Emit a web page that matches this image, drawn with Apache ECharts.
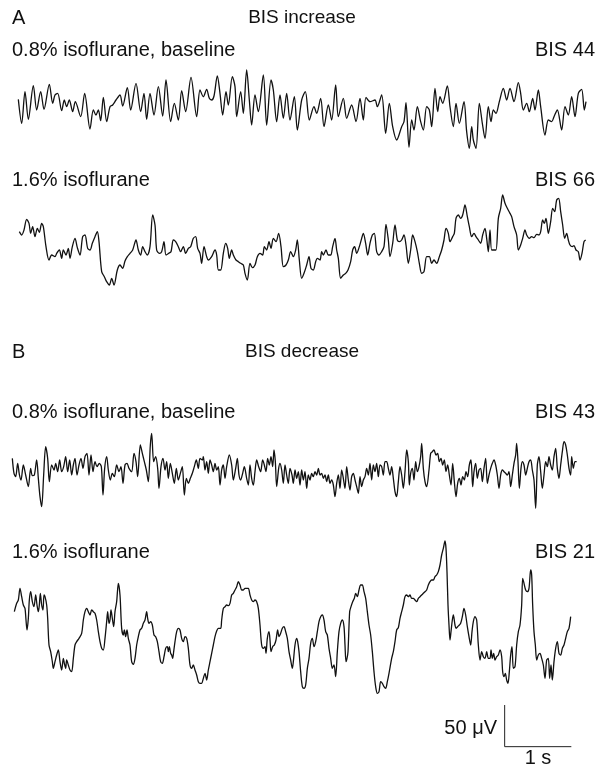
<!DOCTYPE html>
<html>
<head>
<meta charset="utf-8">
<script src="https://cdn.jsdelivr.net/npm/echarts@6/dist/echarts.min.js"></script>
<style>
html,body{margin:0;padding:0;background:#fff;}
#main{width:603px;height:767px;}
</style>
</head>
<body>
<div id="main"></div>
<script>
// ---- DATA: EEG traces as [time (ms), amplitude (µV)] ----
const traceA_baseline = [[275,12.8],[325,-16],[375,22],[425,-11.2],[500,29.2],[550,0],[610,22],[660,0.8],[740,30.8],[790,8],[825,18],[865,20],[925,-0.8],[965,12],[1000,4],[1040,12],[1090,-2],[1130,10],[1210,-8],[1270,20],[1350,-22.8],[1400,0],[1440,-6],[1475,0],[1510,-12.8],[1550,15.2],[1600,-14],[1650,4],[1690,6],[1740,12],[1800,18],[1840,4.8],[1910,26.8],[1960,0],[2040,32],[2110,-2],[2160,20],[2200,-11.2],[2250,20],[2310,-6],[2375,28],[2440,-7.2],[2490,36],[2560,-14],[2615,8],[2675,-12],[2725,23.2],[2785,-2],[2865,39.2],[2950,-8],[3000,24],[3050,16],[3100,24.8],[3140,14],[3175,12],[3210,16.8],[3260,40.8],[3300,20],[3340,-6],[3390,22],[3425,6],[3485,40],[3525,28],[3550,-8],[3610,22],[3650,-4],[3700,48],[3740,12],[3775,-18],[3825,18],[3875,-2],[3950,42],[4000,-18],[4065,36],[4100,24],[4150,-14],[4200,18],[4250,-10],[4300,20],[4350,-12],[4415,16],[4460,-24],[4525,12],[4580,22],[4640,-12],[4710,4],[4750,-4],[4810,14],[4860,-20],[4925,6],[4975,-12],[5035,30],[5075,-8],[5150,14],[5200,-10],[5275,6],[5340,-14],[5400,14],[5450,-12],[5490,15.2],[5550,10],[5625,12],[5660,4],[5725,18],[5785,-28],[5840,8],[5890,-20],[5950,-36],[6025,-20],[6060,-14],[6090,8.8],[6135,-44.8],[6175,-12],[6210,-24],[6260,4],[6310,-14],[6350,-24],[6400,4],[6440,0],[6475,-20],[6525,26],[6565,-2],[6600,16],[6640,8],[6710,28.8],[6750,4],[6800,-20],[6840,8],[6890,-16],[6960,10],[7000,-26],[7040,-46],[7075,-20],[7100,-36],[7140,-46],[7190,8],[7235,-16],[7275,-34],[7325,4],[7365,-14],[7400,0],[7440,-4],[7490,10],[7550,26],[7600,12],[7650,26],[7710,10],[7775,32.8],[7810,20],[7850,0],[7900,8],[7940,-2],[7990,14],[8025,0],[8075,24],[8110,4],[8175,-30],[8225,-12],[8275,-14],[8310,-8],[8360,0],[8425,-24],[8475,4],[8525,-6],[8575,16],[8625,-8],[8675,20],[8725,24.8],[8765,0],[8790,10]];

const traceA_iso16 = [[290,16],[325,12],[360,18],[400,30.8],[435,26],[460,14],[490,22],[525,10],[560,20],[590,15.2],[625,26],[650,22],[690,-2],[735,-18],[775,-12],[825,-14],[850,-10],[890,-6],[925,-16],[950,-6],[990,-12],[1025,-4],[1050,-16],[1085,-2],[1125,8],[1160,-3.2],[1200,-12],[1240,10],[1275,12],[1315,-4],[1350,-6],[1385,2],[1425,10],[1460,16],[1485,4],[1525,-32],[1565,-38],[1600,-44],[1640,-48],[1675,-40],[1710,-48],[1760,-30],[1800,-24],[1840,-28],[1875,-19.2],[1910,-14],[1950,-10],[1990,-6],[2040,6],[2075,-6],[2110,-12],[2140,-2],[2175,-8],[2210,-12],[2250,-2],[2290,36],[2325,24],[2350,-6],[2390,-10],[2425,-8],[2460,4],[2490,-12],[2530,-10],[2565,-8],[2600,6],[2635,4],[2675,-2],[2710,-8],[2750,-2],[2785,-10],[2825,-4],[2860,-2],[2900,8],[2935,10],[2965,-4],[3000,-10],[3025,-22],[3060,-2],[3100,-14],[3125,-18],[3175,-14],[3225,-6],[3250,-12],[3275,-30],[3310,-30],[3350,-10],[3385,2],[3415,-4],[3440,-16],[3475,-6],[3500,-12],[3540,-18],[3575,-20],[3610,-22],[3650,-24],[3675,-34],[3710,-42],[3750,-22],[3785,-27.2],[3825,-24],[3860,-14],[3900,-10],[3940,-12],[3965,-2],[4000,-6],[4035,4],[4065,-4],[4100,8],[4140,4],[4180,14],[4215,-2],[4250,-26],[4290,-24],[4325,-18],[4360,-8],[4400,-14],[4435,-6],[4460,6],[4490,-18],[4525,-40],[4560,-34],[4600,-24],[4635,-14],[4665,-28],[4700,-30],[4735,-20],[4760,-16],[4800,-18],[4825,-8],[4850,-12],[4890,-6],[4925,-12],[4960,-12],[4990,-2],[5025,8],[5050,-6],[5075,-16],[5110,-40],[5150,-36],[5185,-34],[5220,-30],[5260,-20],[5290,-6],[5320,-2],[5350,-10],[5390,-2],[5425,8],[5450,14],[5485,2],[5515,-12],[5550,2],[5585,12],[5615,14],[5650,-8],[5685,-12],[5725,-8],[5760,-2],[5790,24.8],[5825,6],[5850,-14],[5890,2],[5925,24],[5960,6],[5990,4],[6025,6],[6060,12],[6090,0],[6125,-22],[6160,-6],[6190,12],[6225,4],[6260,-8],[6290,-22],[6325,-34],[6360,-32],[6400,-14],[6440,-14],[6475,-22],[6510,-18],[6550,-22],[6590,-14],[6625,-6],[6660,6],[6690,20],[6725,14],[6750,4],[6790,10],[6815,14],[6840,32],[6875,36],[6910,32],[6940,36],[6975,48],[7010,34],[7040,22],[7075,10],[7110,14],[7140,10],[7175,6],[7210,2],[7240,12],[7275,20],[7300,8],[7325,-8],[7350,18],[7375,-6],[7410,-6],[7440,-6],[7475,32],[7510,44],[7540,60],[7575,50],[7610,44],[7650,38],[7675,34],[7710,22],[7750,12],[7775,-6],[7810,0],[7840,8],[7875,18],[7900,12],[7940,8],[7975,10],[8010,8.8],[8050,12.8],[8085,12],[8110,16],[8140,30],[8165,26],[8190,32],[8225,14],[8260,28],[8290,44],[8320,40],[8350,54],[8380,56],[8410,40],[8440,24],[8470,8],[8500,14],[8525,6],[8550,0],[8585,-2],[8610,-0.8],[8640,-6],[8675,-8],[8700,-18],[8730,-10],[8760,4],[8785,6]];

const traceB_baseline = [[185,8],[210,-10],[235,-14],[265,2],[290,-11.2],[315,-18],[350,0],[385,-12],[425,-26],[460,-4],[485,-12.8],[515,-12],[550,6],[575,-16],[600,-38],[625,-50],[655,-12],[685,22],[715,8],[740,-20],[775,0],[810,-6],[835,2],[865,-8],[895,6],[925,-8],[955,-2],[985,10],[1015,-8],[1045,6],[1075,-12],[1100,0],[1125,8],[1155,-12],[1185,0],[1215,8],[1245,-4],[1275,10],[1305,14],[1335,-12],[1365,12],[1395,-8],[1425,4],[1455,-2],[1490,2],[1520,-2],[1545,-36],[1570,-4],[1600,10],[1625,-6],[1655,-18],[1685,-10],[1715,-14],[1750,0],[1785,-8],[1815,-2],[1845,-22],[1875,0],[1905,2],[1935,-4],[1975,-8],[2010,14],[2040,4],[2065,-14],[2105,24],[2135,14],[2165,4],[2195,-6],[2225,-20],[2255,24],[2275,38],[2305,4],[2335,10],[2365,-4],[2385,-28],[2415,-2],[2445,8],[2475,-6],[2500,4],[2525,-16],[2555,2],[2585,-10],[2615,-22],[2645,-4],[2675,-18],[2705,-10],[2735,-2],[2765,-36],[2795,-16],[2825,-22],[2855,-16],[2885,-10],[2915,-2],[2945,6],[2975,-4],[3000,8],[3035,6],[3050,10],[3075,-6],[3100,4],[3125,-10],[3150,6],[3175,0],[3200,-8],[3225,2],[3250,-6],[3275,-2],[3300,-24],[3325,-6],[3350,0],[3375,-16],[3400,-2],[3440,12],[3475,0],[3500,-18],[3535,-4],[3560,8],[3585,-12],[3610,-18],[3640,-10],[3665,-2],[3700,-16],[3725,-24],[3750,0],[3775,-16],[3800,-24],[3825,-8],[3850,6],[3880,-2],[3910,-8],[3940,6],[3965,0],[3990,-8],[4015,8],[4040,0],[4065,10],[4090,-2],[4110,18],[4130,4],[4150,-26],[4180,-4],[4200,2],[4225,-6],[4250,-22],[4275,0],[4300,-12],[4325,-22],[4350,-4],[4380,-12],[4400,-22],[4425,-6],[4450,-16],[4475,-8],[4500,-24],[4525,-6],[4550,-18],[4575,-8],[4600,-28],[4625,-12],[4650,-18],[4675,-10],[4700,-14],[4725,-8],[4750,-12],[4775,-4],[4800,-12],[4825,-10],[4850,-16],[4875,-12],[4900,-20],[4925,-12],[4950,-22],[4975,-18],[5000,-24],[5025,-38],[5050,-22],[5075,-12],[5100,-28],[5125,-6],[5150,-16],[5175,-28],[5200,-2],[5225,-18],[5250,-30],[5275,-14],[5300,-10],[5325,-18],[5350,-26],[5375,-34],[5400,-14],[5425,-26],[5450,-18],[5475,-14],[5500,-4],[5525,-12],[5550,2],[5575,-18],[5600,0],[5625,-8],[5650,2],[5675,-14],[5700,0],[5725,-2],[5750,-12],[5775,4],[5800,4],[5825,-4],[5850,-12],[5875,-2],[5900,-16],[5925,-32],[5950,-38],[5975,-20],[6000,-2],[6025,-12],[6050,-28],[6075,-8],[6100,18],[6125,4],[6140,-24],[6160,-10],[6185,-4],[6210,-18],[6235,4],[6260,-8],[6285,-2],[6310,10],[6325,26],[6350,-4],[6375,-20],[6400,-26],[6435,-6],[6460,14],[6485,16],[6510,18],[6540,12],[6565,14],[6590,4],[6615,8],[6640,0],[6665,6],[6690,-8],[6715,0],[6740,-12],[6765,-24],[6790,2],[6815,-20],[6840,-38],[6865,-22],[6890,-16],[6915,-24],[6940,-14],[6965,-18],[6990,-8],[7015,-14],[7040,0],[7065,6],[7090,-26],[7110,-8],[7135,2],[7160,-16],[7185,-6],[7210,-4],[7235,-20],[7260,-4],[7285,8],[7310,-22],[7335,-12],[7360,-4],[7385,2],[7410,6],[7435,0],[7460,-12],[7485,-28],[7510,-12],[7535,-6],[7560,-8],[7585,-10],[7610,-12],[7635,-8],[7660,-26],[7685,-12],[7710,2],[7735,12],[7750,26],[7770,4],[7790,-28],[7815,-4],[7835,4],[7860,0],[7885,-12],[7910,-4],[7935,4],[7960,6],[7985,-6],[8010,-18],[8035,-52],[8060,0],[8085,10],[8110,-8],[8135,-28],[8160,-12],[8185,4],[8210,-2],[8235,10],[8260,0],[8285,-6],[8310,10],[8335,20],[8360,-4],[8385,-16],[8410,0],[8435,16],[8460,28],[8485,24],[8510,12],[8535,-4],[8560,-12],[8575,10],[8600,-4],[8625,4],[8650,4]];

const traceB_iso16 = [[215,4],[250,14],[275,18],[300,32],[325,22],[350,12],[375,8],[390,-6],[405,-18],[425,-4],[440,18],[460,28],[485,16],[510,10],[535,24],[555,12],[575,4],[590,12],[605,26],[625,12],[645,6],[660,24],[675,22],[700,12],[715,-4],[735,-36],[760,-44],[785,-56],[800,-64],[825,-56],[850,-48],[875,-42],[900,-56],[925,-66],[950,-52],[965,-58],[985,-64],[1000,-54],[1025,-60],[1050,-66],[1075,-68],[1100,-52],[1125,-36],[1150,-32],[1185,-28],[1225,-22],[1250,-6],[1275,4],[1300,8],[1325,4],[1350,0],[1375,6],[1400,4],[1425,2],[1450,-6],[1475,-20],[1500,-32],[1525,-40],[1550,-42],[1575,-28],[1600,-8],[1615,4],[1635,-10],[1650,-6],[1665,6],[1685,-4],[1705,-14],[1725,4],[1750,16],[1775,38],[1800,24],[1825,-16],[1850,-24],[1865,-18],[1885,-26],[1905,-18],[1925,-28],[1950,-36],[1975,-56],[2000,-59.2],[2025,-52],[2050,-36],[2075,-26],[2100,-18],[2125,-16],[2150,-10],[2175,-6],[2200,4],[2215,-4],[2235,-10],[2260,-8],[2285,-12],[2310,-24],[2335,-26],[2360,-32],[2385,-44],[2410,-56],[2435,-58],[2460,-50],[2485,-40],[2510,-38],[2525,-44],[2540,-38],[2560,-46],[2575,-48],[2590,-52],[2605,-44],[2625,-32],[2650,-20],[2675,-16],[2700,-18],[2725,-28],[2750,-32],[2775,-26],[2800,-28],[2825,-40],[2850,-60],[2875,-64],[2900,-60],[2925,-66],[2950,-72],[2975,-80],[3000,-82],[3025,-82],[3050,-76],[3075,-70],[3100,-78],[3125,-66],[3150,-56],[3175,-46],[3200,-36],[3225,-26],[3250,-19.2],[3275,-16],[3310,-16],[3325,-6],[3350,8],[3375,10],[3400,12],[3425,11.2],[3450,14],[3475,24],[3500,26],[3525,30],[3550,34],[3575,40],[3600,36],[3625,30],[3650,30],[3675,32],[3700,32],[3725,32],[3750,24],[3775,18],[3800,16],[3825,18],[3850,16],[3875,8],[3900,-12],[3925,-36],[3950,-40],[3975,-38],[3990,-46],[4010,-28],[4035,-20],[4050,-30],[4065,-44],[4090,-38],[4115,-36],[4140,-30],[4165,-18],[4185,-26],[4210,-22],[4235,-16],[4260,-14],[4285,-20],[4310,-28],[4335,-44],[4360,-54],[4385,-64],[4400,-56],[4425,-36],[4450,-28],[4465,-32],[4485,-44],[4510,-68],[4535,-86],[4560,-88],[4585,-84],[4610,-64],[4635,-52],[4660,-34],[4685,-28],[4710,-38],[4735,-32],[4760,-20],[4785,-8],[4810,-2],[4835,0],[4860,-6],[4885,-20],[4910,-24],[4935,-40],[4960,-52],[4985,-64],[5010,-60],[5035,-74],[5060,-44],[5085,-20],[5110,-10],[5135,-6],[5160,-14],[5175,-36],[5190,-56],[5205,-52],[5220,-44],[5245,4],[5265,10],[5290,16],[5315,20],[5335,26],[5360,22],[5385,30],[5410,36],[5435,36],[5460,28],[5485,20],[5510,4],[5535,-12],[5560,-24],[5585,-44],[5610,-68],[5635,-86],[5660,-94],[5685,-92],[5710,-80],[5735,-82],[5760,-86],[5785,-88],[5810,-80],[5835,-70],[5875,-52],[5900,-44],[5925,-32],[5950,-18],[5975,-15.2],[6000,-4],[6025,4],[6050,12],[6075,22],[6100,24],[6125,22],[6150,24],[6175,20],[6200,20],[6225,18],[6250,16],[6275,20],[6300,22],[6325,24],[6350,26],[6375,28],[6400,30],[6425,36],[6450,40],[6475,42],[6500,42],[6525,46],[6550,48],[6575,52],[6600,60],[6625,72],[6650,80],[6675,88.8],[6690,80],[6705,52],[6720,12],[6735,-12],[6750,-30],[6765,-20],[6785,-6],[6800,0],[6825,-12],[6840,-16],[6865,-14],[6890,-12],[6910,-10],[6935,-2],[6960,8],[6985,0],[7010,-14],[7035,-26],[7060,-36],[7080,-20],[7100,-8],[7125,-2],[7150,-6],[7175,-36],[7200,-54],[7225,-44],[7250,-50],[7275,-52],[7300,-44],[7325,-52],[7350,-52],[7365,-42],[7385,-52],[7405,-46],[7425,-54],[7450,-50],[7475,-48],[7500,-42],[7525,-50],[7540,-68],[7560,-74],[7580,-70],[7600,-78],[7620,-82],[7640,-68],[7660,-48],[7680,-38],[7700,-64],[7725,-62],[7750,-36],[7775,-20],[7800,-12],[7825,12],[7840,44],[7860,38],[7885,30],[7910,28],[7935,32],[7960,54],[7975,48],[7990,12],[8010,-20],[8030,-36],[8050,-54],[8075,-48],[8100,-46],[8125,-52],[8150,-60],[8175,-76],[8200,-54],[8225,-52],[8245,-76],[8265,-60],[8285,-78],[8310,-56],[8335,-40],[8360,-32],[8385,-46],[8410,-48],[8435,-40],[8460,-36],[8485,-28],[8510,-20],[8535,-16],[8560,-2]];

// Labels
const panelLetters = ['A', 'B'];
const panelTitles = ['BIS increase', 'BIS decrease'];
const conditionLabels = ['0.8% isoflurane, baseline', '1.6% isoflurane', '0.8% isoflurane, baseline', '1.6% isoflurane'];
const bisValues = [44, 66, 43, 21];
// Calibration bar
const scaleBarUV = 50;   // µV
const scaleBarS = 1;     // s

// ---- LAYOUT ----
const X_MAX_MS = 9045;
const FONT = '"Liberation Sans", Arial, Helvetica, sans-serif';
const FS = 20;
const traces = [traceA_baseline, traceA_iso16, traceB_baseline, traceB_iso16];
const gridDefs = [
  {top: 10, height: 200, half: 120},
  {top: 145, height: 200, half: 120},
  {top: 365, height: 200, half: 120},
  {top: 475, height: 280, half: 168}
];
const labelY = [50, 180, 412, 552];

const grids = gridDefs.map(g => ({left: 0, right: 0, top: g.top, height: g.height, containLabel: false}));
const xAxes = gridDefs.map((g, i) => ({type: 'value', gridIndex: i, min: 0, max: X_MAX_MS, show: false}));
const yAxes = gridDefs.map((g, i) => ({type: 'value', gridIndex: i, min: -g.half, max: g.half, show: false}));

const series = traces.map((d, i) => ({
  type: 'line', xAxisIndex: i, yAxisIndex: i, data: d,
  showSymbol: false, symbol: 'none', smooth: 0.3, silent: true,
  lineStyle: {color: '#111', width: 1.3}, animation: false
}));

// scale bar anchored in the last panel
const barT0 = 7570, barV0 = -158;
series.push({
  type: 'line', xAxisIndex: 3, yAxisIndex: 3, showSymbol: false, symbol: 'none', silent: true,
  data: [[barT0, barV0 + scaleBarUV], [barT0, barV0], [barT0 + scaleBarS * 1000, barV0]],
  lineStyle: {color: '#222', width: 1}, animation: false
});

function txt(text, x, y, align, size) {
  return {type: 'text', silent: true, style: {text: text, x: x, y: y, fill: '#111', font: (size || FS) + 'px ' + FONT, textAlign: align || 'left', textVerticalAlign: 'middle'}};
}

const graphics = [
  txt(panelLetters[0], 12, 18),
  txt(panelTitles[0], 302, 18, 'center', 19),
  txt(panelLetters[1], 12, 352),
  txt(panelTitles[1], 302, 352, 'center', 19)
];
conditionLabels.forEach((c, i) => {
  graphics.push(txt(c, 12, labelY[i]));
  graphics.push(txt('BIS ' + bisValues[i], 595, labelY[i], 'right'));
});
graphics.push(txt(scaleBarUV + ' \u03bcV', 497, 728, 'right'));
graphics.push(txt(scaleBarS + ' s', 538, 758, 'center'));

const chart = echarts.init(document.getElementById('main'), null, {renderer: 'canvas'});
chart.setOption({
  animation: false,
  backgroundColor: '#fff',
  grid: grids, xAxis: xAxes, yAxis: yAxes, series: series,
  graphic: graphics
});
</script>
</body>
</html>
